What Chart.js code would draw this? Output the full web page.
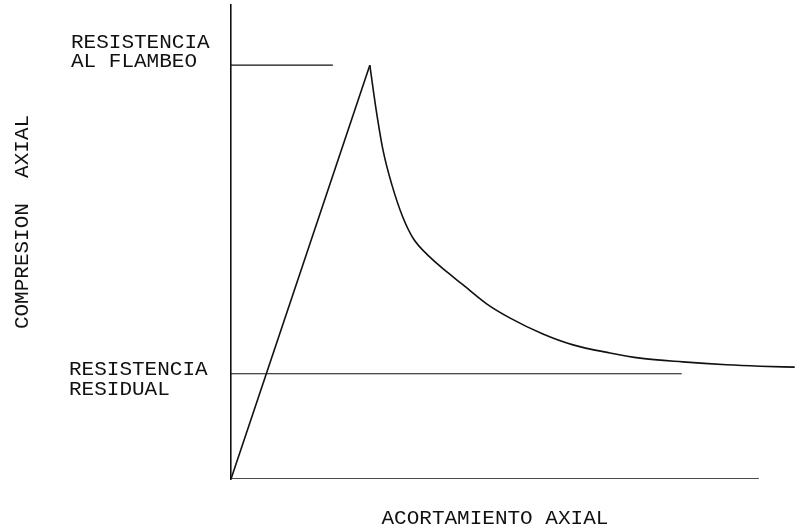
<!DOCTYPE html>
<html>
<head>
<meta charset="utf-8">
<script src="https://cdn.jsdelivr.net/npm/chart.js@4"></script>
<style>
    body { margin: 0; background: #fff; }
    canvas { display: block; }
</style>
</head>
<body>
<canvas id="chart" width="800" height="531"></canvas>
<script>
// Elastic branch: straight from origin up to the buckling peak
const riseX = [0, 26.3];
const riseY = [0, 87.3];

// Post-buckling branch, from the peak to beyond the axis end
const decayX = [26.3, 27.5, 28.8, 30.5, 32.6, 34.5, 37.7, 40.9, 43.8, 48.5, 52.8, 59.1, 64.8, 71.8, 77.5, 85.6, 93.9, 100.2, 106.8];
const decayY = [87.3, 77.9, 69.4, 62.0, 55.1, 50.8, 46.8, 43.7, 41.1, 36.9, 34.0, 30.6, 28.3, 26.6, 25.5, 24.7, 24.1, 23.8, 23.6];

// Reference levels
const bucklingLevel = 87.3;
const bucklingEndX = 19.3;
const residualLevel = 22.2;
const residualEndX = 85.4;
const axisEndX = 100;

// Texts
const bucklingLabel = ['RESISTENCIA', 'AL FLAMBEO'];
const residualLabel = ['RESISTENCIA', 'RESIDUAL'];
const xTitle = 'ACORTAMIENTO AXIAL';
const yTitle = 'COMPRESION  AXIAL';

const ink = '#111';
const font = '21px "Liberation Mono", "DejaVu Sans Mono", monospace';

const toPoints = (xs, ys) => xs.map((x, i) => ({ x: x, y: ys[i] }));

const lineSet = (points, width, extra) => Object.assign({
    data: points,
    showLine: true,
    borderColor: ink,
    borderWidth: width,
    pointRadius: 0
}, extra || {});

// Draw the labels next to the levels and the axis titles
const textPlugin = {
    id: 'texts',
    afterDraw(chart) {
        const ctx = chart.ctx;
        const x = chart.scales.x;
        const y = chart.scales.y;
        ctx.save();
        ctx.fillStyle = ink;
        ctx.font = font;
        ctx.textBaseline = 'middle';
        ctx.textAlign = 'left';

        const yb = y.getPixelForValue(bucklingLevel);
        ctx.fillText(bucklingLabel[0], 71, yb - 23);
        ctx.fillText(bucklingLabel[1], 71, yb - 4);

        const yr = y.getPixelForValue(residualLevel);
        ctx.fillText(residualLabel[0], 69, yr - 4);
        ctx.fillText(residualLabel[1], 69, yr + 16);

        ctx.textAlign = 'center';
        ctx.fillText(xTitle, (x.getPixelForValue(0) + x.getPixelForValue(axisEndX)) / 2, 518);

        ctx.translate(22, 222);
        ctx.rotate(-Math.PI / 2);
        ctx.fillText(yTitle, 0, 0);
        ctx.restore();
    }
};

const hideSize = scale => { scale.width = 0; scale.height = 0; };

new Chart(document.getElementById('chart'), {
    type: 'scatter',
    data: {
        datasets: [
            lineSet(toPoints(riseX, riseY), 1.6),
            lineSet(toPoints(decayX, decayY), 1.6, { cubicInterpolationMode: 'monotone' }),
            lineSet(toPoints([0, bucklingEndX], [bucklingLevel, bucklingLevel]), 1.2),
            lineSet(toPoints([0, residualEndX], [residualLevel, residualLevel]), 1.2),
            // x axis line, shorter than the plotting area
            lineSet(toPoints([0, axisEndX], [0, 0]), 1.6)
        ]
    },
    options: {
        responsive: false,
        animation: false,
        layout: { padding: { left: 231, right: 0, top: 5, bottom: 52 } },
        plugins: {
            legend: { display: false },
            tooltip: { enabled: false }
        },
        scales: {
            x: {
                type: 'linear',
                min: 0,
                max: 107.8,
                grid: { display: false },
                ticks: { display: false },
                border: { display: false },
                afterFit: hideSize
            },
            y: {
                type: 'linear',
                min: 0,
                max: 100,
                grid: { display: false },
                ticks: { display: false },
                border: { display: true, color: ink, width: 1.6 },
                afterFit: hideSize
            }
        }
    },
    plugins: [textPlugin]
});
</script>
</body>
</html>
